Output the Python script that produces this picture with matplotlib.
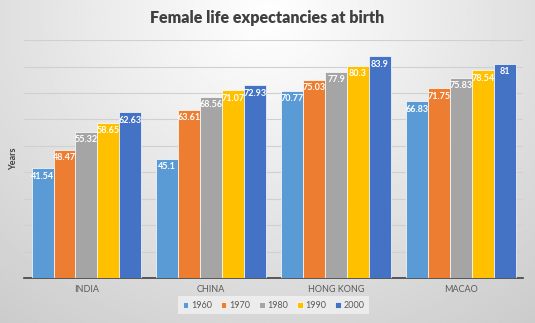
import numpy as np
import matplotlib
matplotlib.use('Agg')
import matplotlib.pyplot as plt

plt.rcParams['font.family'] = ['Lato', 'DejaVu Sans']

# Data
countries = ["INDIA", "CHINA", "HONG KONG", "MACAO"]
years = ["1960", "1970", "1980", "1990", "2000"]
life_1960 = [41.54, 45.1, 70.77, 66.83]
life_1970 = [48.47, 63.61, 75.03, 71.75]
life_1980 = [55.32, 68.56, 77.9, 75.83]
life_1990 = [58.65, 71.07, 80.3, 78.54]
life_2000 = [62.63, 72.93, 83.9, 81]
series = [life_1960, life_1970, life_1980, life_1990, life_2000]
colors = ["#5B9BD5", "#ED7D31", "#A5A5A5", "#FFC000", "#4472C4"]

fig = plt.figure(figsize=(5.35, 3.23), dpi=100)

# radial grey background
bg = fig.add_axes([0, 0, 1, 1], zorder=0)
yy, xx = np.mgrid[0:1:200j, 0:1:300j]
r = np.sqrt(((xx - 0.5) / 0.8) ** 2 + ((yy - 0.05) / 1.2) ** 2)
bg.imshow(1 - 0.2 * np.clip(r, 0, 1), cmap="gray", vmin=0, vmax=1,
          aspect="auto", extent=[0, 1, 0, 1], origin="upper")
bg.set_axis_off()

ax = fig.add_axes([0.045, 0.139, 0.933, 0.737], zorder=1)
ax.patch.set_alpha(0)

x = np.arange(len(countries))
width = 0.88 / len(years)
for i, (vals, col, yr) in enumerate(zip(series, colors, years)):
    pos = x - 0.44 + width * (i + 0.5)
    bars = ax.bar(pos, vals, width, color=col, edgecolor="white", linewidth=0.5,
                  label=yr, zorder=3)
    for b, v in zip(bars, vals):
        ax.text(b.get_x() + b.get_width() / 2, v - 1.3, f"{v:g}", ha="center",
                va="top", color="white", fontsize=6.5, fontweight="bold", zorder=4,
                family=["Liberation Sans Narrow", "Lato"])

ax.set_xlim(-0.5, 3.5)
ax.set_ylim(0, 90)
ax.set_yticks(np.arange(0, 91, 10))
ax.yaxis.grid(True, color="#D0D0D0", linewidth=0.8, zorder=0)
ax.tick_params(axis="y", length=0, labelleft=False)
ax.set_xticks(x)
ax.set_xticklabels(countries, fontsize=6.5, color="#595959")
ax.tick_params(axis="x", length=0, pad=5)
for s in ["top", "right", "left"]:
    ax.spines[s].set_visible(False)
ax.spines["bottom"].set_color("#404040")
ax.spines["bottom"].set_linewidth(1.2)
ax.set_ylabel("Years", fontsize=6.5, fontweight="bold", color="#404040", labelpad=4)

fig.text(0.5, 0.944, "Female life expectancies at birth", ha="center", va="center",
         fontsize=11.5, fontweight="heavy", color="#404040")

leg = ax.legend(loc="center", bbox_to_anchor=(0.5, -0.115), ncol=5, fontsize=6.5,
                frameon=True, handlelength=0.6, handleheight=0.6, handletextpad=0.3,
                columnspacing=1.0, borderpad=0.5)
leg.get_frame().set_facecolor("#F2F2F2")
leg.get_frame().set_edgecolor("none")
leg.get_frame().set_boxstyle("square", pad=0)
for t in leg.get_texts():
    t.set_color("#595959")

fig.savefig("out.png", dpi=100)
